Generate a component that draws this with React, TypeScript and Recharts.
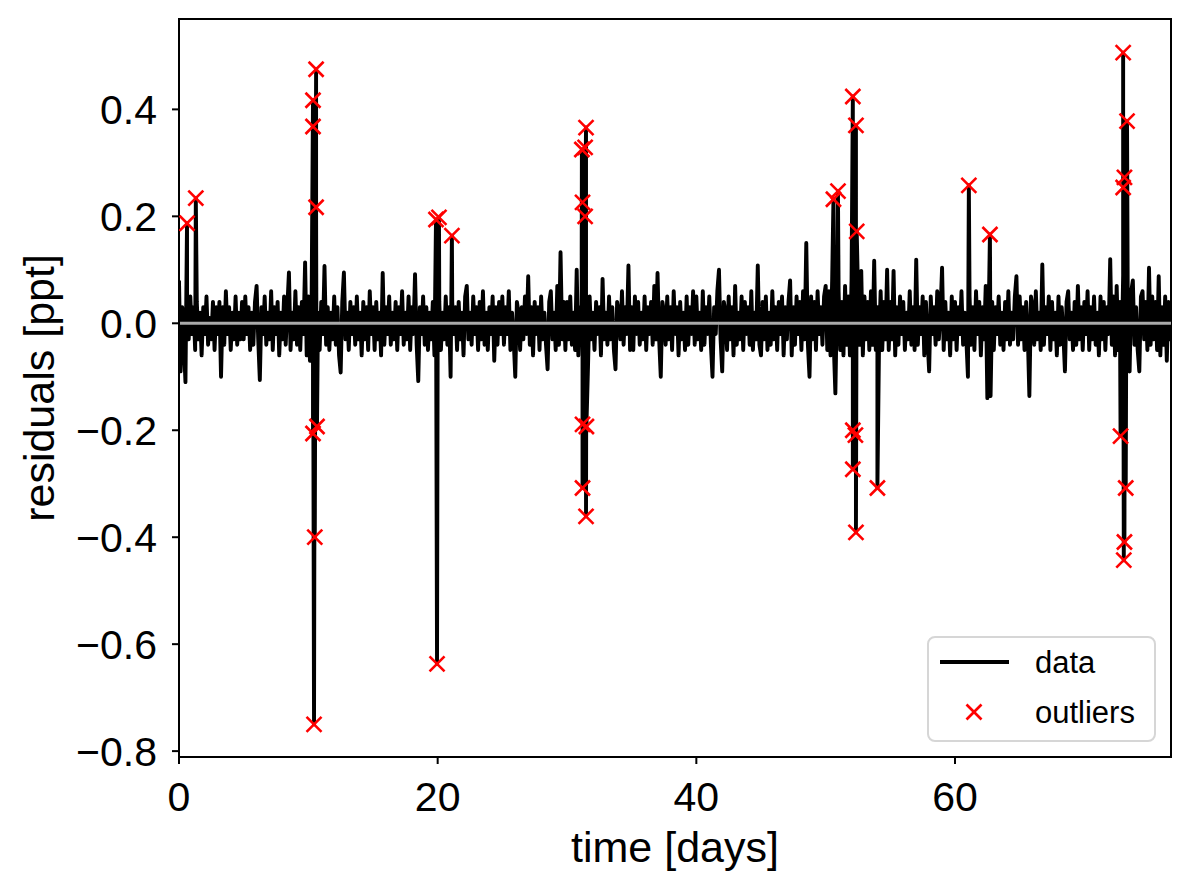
import React from 'react';
import {
  ComposedChart,
  Line,
  Scatter,
  XAxis,
  YAxis,
  ReferenceLine,
  ReferenceArea,
  Legend,
} from 'recharts';

const FONT = '"Liberation Sans", Arial, sans-serif';

// residuals (ppt), one sample every `cadence` days starting at t = 0
const cadence = 0.125;
const residuals = [
  // 0 - 5 d
  0.08, -0.09, 0.03, -0.04, -0.11, 0.02, -0.03, 0.05, -0.02, 0.03,
  -0.05, 0.04, -0.03, 0.02, -0.06, 0.03, -0.02, 0.05, -0.04, 0.01,
  -0.03, 0.04, -0.05, 0.03, -0.02, 0.04, -0.1, 0.03, -0.04, 0.06,
  -0.02, 0.03, -0.05, 0.02, -0.03, 0.05, -0.04, 0.02, -0.03, 0.04,
  // 5 - 10 d
  -0.03, 0.05, -0.02, 0.03, -0.05, 0.02, -0.04, 0.04, 0.07, -0.03,
  -0.106, 0.03, -0.02, 0.05, -0.04, 0.02, -0.03, 0.06, -0.05, 0.03,
  -0.02, 0.04, -0.06, 0.02, -0.03, 0.05, -0.04, 0.03, 0.095, -0.05,
  0.02, -0.03, 0.06, -0.04, 0.03, -0.05, 0.04, -0.02, 0.114, -0.06,
  // 10 - 15 d
  0.05, -0.07, 0.03, -0.04, 0.06, -0.03, 0.02, -0.05, 0.04, -0.02,
  0.107, -0.04, 0.03, -0.05, 0.02, -0.03, 0.05, -0.04, 0.03, -0.06,
  -0.092, 0.04, 0.095, -0.03, 0.02, -0.05, 0.04, -0.02, 0.03, -0.04,
  0.05, -0.03, 0.02, -0.06, 0.04, -0.03, 0.03, -0.05, 0.06, -0.02,
  // 15 - 20 d
  0.03, -0.05, 0.04, -0.03, 0.02, -0.06, 0.094, -0.04, 0.03, -0.02,
  0.05, -0.04, 0.02, -0.03, 0.04, -0.05, 0.03, -0.02, 0.06, -0.04,
  0.02, -0.03, 0.05, -0.05, 0.03, -0.02, 0.092, -0.04, -0.108, 0.03,
  -0.02, 0.05, -0.04, 0.03, -0.05, 0.02, -0.03, 0.04, -0.06, 0.05,
  // 20 - 25 d
  -0.03, 0.04, -0.05, 0.02, -0.03, 0.05, -0.04, 0.03, -0.1, 0.04,
  -0.02, 0.03, -0.05, 0.04, -0.03, 0.02, -0.06, 0.05, 0.07, -0.03,
  0.02, -0.04, 0.05, -0.02, 0.03, -0.05, 0.04, -0.03, 0.06, -0.04,
  0.02, -0.05, 0.03, -0.02, 0.05, -0.07, 0.03, -0.04, 0.04, -0.02,
  // 25 - 30 d
  0.05, -0.04, 0.03, -0.02, 0.06, -0.05, 0.02, -0.03, -0.1, 0.04,
  0.02, -0.05, 0.03, -0.03, 0.05, -0.02, 0.088, -0.04, 0.03, -0.06,
  0.04, -0.02, 0.03, -0.05, 0.05, -0.03, 0.02, -0.04, -0.086, 0.04,
  0.06, -0.03, 0.02, -0.05, 0.07, -0.04, 0.133, -0.03, 0.04, -0.05,
  // 30 - 35 d
  0.04, -0.03, 0.05, -0.04, 0.02, -0.05, 0.1, -0.06, 0.03, -0.04,
  0.07, -0.05, 0.04, -0.08, 0.05, -0.03, 0.02, -0.05, 0.04, -0.02,
  0.03, -0.06, 0.083, -0.03, 0.02, -0.04, 0.05, -0.03, 0.03, -0.05,
  -0.086, 0.04, 0.02, -0.03, 0.06, -0.04, 0.03, -0.02, 0.108, -0.05,
  // 35 - 40 d
  0.03, -0.05, 0.05, -0.02, 0.04, -0.04, 0.02, -0.03, 0.05, -0.05,
  0.03, -0.02, 0.04, -0.04, 0.07, -0.03, 0.094, -0.03, -0.1, 0.04,
  0.02, -0.04, 0.05, -0.03, 0.03, -0.05, 0.06, -0.02, 0.03, -0.06,
  0.04, -0.03, 0.02, -0.05, 0.05, -0.04, 0.03, -0.02, 0.06, -0.04,
  // 40 - 45 d
  0.05, -0.03, 0.02, -0.05, 0.06, -0.04, 0.03, -0.02, 0.05, -0.04,
  -0.1, 0.03, -0.02, 0.06, 0.1, -0.03, -0.09, 0.04, 0.02, -0.05,
  0.05, -0.03, 0.03, -0.06, 0.07, -0.04, 0.02, -0.03, 0.05, -0.05,
  0.04, -0.02, 0.03, -0.04, 0.06, -0.05, 0.02, -0.03, 0.108, -0.04,
  // 45 - 50 d
  -0.06, 0.04, -0.03, 0.05, -0.05, 0.02, -0.04, 0.06, -0.03, 0.03,
  -0.05, 0.04, -0.02, 0.05, -0.06, 0.03, -0.03, 0.04, 0.08, -0.06,
  0.03, -0.04, 0.05, -0.02, 0.04, -0.05, 0.06, -0.03, 0.15, -0.04,
  -0.1, 0.05, -0.03, 0.04, -0.05, 0.06, -0.02, 0.03, -0.04, 0.05,
  // 50 - 55 d
  0.07, -0.05, 0.06, -0.06, 0.08, -0.04, -0.131, 0.05, 0.06, -0.05,
  0.04, -0.06, 0.07, -0.04, 0.05, -0.06, 0.08, -0.05, 0.04, -0.07,
  0.06, -0.04, 0.098, -0.06, 0.05, -0.03, 0.04, -0.05, 0.06, -0.04,
  0.117, -0.05, 0.03, -0.04, 0.06, -0.05, 0.04, -0.03, 0.1, -0.05,
  // 55 - 60 d
  0.04, -0.03, 0.098, -0.06, 0.03, -0.04, 0.05, -0.02, 0.04, -0.05,
  0.02, -0.03, 0.06, -0.04, 0.03, -0.05, 0.119, -0.04, 0.03, -0.02,
  0.05, -0.06, 0.04, -0.03, -0.09, 0.05, -0.02, 0.03, -0.04, 0.06,
  -0.03, 0.02, 0.104, -0.05, 0.04, -0.03, 0.02, -0.06, 0.05, -0.03,
  // 60 - 65 d
  0.04, -0.05, 0.03, -0.02, 0.06, -0.04, 0.02, -0.03, -0.1, 0.05,
  -0.04, 0.03, -0.05, 0.06, -0.02, 0.04, -0.06, 0.03, -0.03, 0.07,
  -0.14, 0.05, -0.136, 0.04, -0.05, 0.03, -0.02, 0.05, -0.04, 0.02,
  -0.05, 0.04, -0.03, 0.06, -0.04, 0.02, -0.03, 0.05, 0.088, -0.04,
  // 65 - 70 d
  0.05, -0.03, 0.03, -0.05, 0.04, -0.02, -0.136, 0.05, 0.03, -0.04,
  0.06, -0.03, 0.02, -0.05, 0.11, -0.04, 0.03, -0.02, 0.05, -0.05,
  0.04, -0.03, 0.02, -0.06, 0.05, -0.04, 0.03, -0.02, -0.09, 0.04,
  0.06, -0.03, 0.02, -0.05, 0.04, -0.04, 0.07, -0.03, 0.03, -0.05,
  // 70 - 75 d
  0.04, -0.02, 0.06, -0.05, 0.03, -0.03, 0.05, -0.04, 0.02, -0.06,
  0.05, -0.03, 0.04, -0.05, 0.03, -0.02, 0.12, -0.04, 0.05, -0.06,
  0.07, -0.05, 0.04, -0.08, 0.09, -0.06, 0.05, -0.07, -0.09, 0.06,
  0.08, -0.04, 0.03, -0.05, -0.09, 0.05, 0.06, -0.03, 0.04, -0.05,
  // 75 - 76.75 d
  0.104, -0.04, 0.05, -0.03, 0.04, -0.05, 0.088, -0.06, 0.03, -0.04,
  0.05, -0.07, 0.04, -0.03, 0.04,
];

// flagged outliers
const outlierTimes = [
  0.62, 1.3,
  10.36, 10.36, 10.36, 10.44, 10.5, 10.6, 10.6, 10.67,
  19.87, 19.95, 20.1, 21.1,
  31.15, 31.2, 31.2, 31.2, 31.4, 31.4, 31.47, 31.47, 31.5,
  50.6, 50.95,
  52.1, 52.1, 52.1, 52.3, 52.34, 52.34, 52.4,
  54.0, 61.07, 62.7,
  72.8, 73.0, 73.0, 73.05, 73.1, 73.1, 73.2, 73.3,
];
const outlierValues = [
  0.187, 0.234,
  0.417, 0.368, -0.206, -0.75, -0.4, 0.475, 0.217, -0.193,
  0.194, -0.637, 0.198, 0.164,
  0.325, 0.226, -0.189, -0.308, 0.329, 0.2, 0.366, -0.361, -0.193,
  0.232, 0.247,
  0.424, -0.2, -0.273, -0.209, 0.37, -0.391, 0.172,
  -0.308, 0.258, 0.166,
  -0.211, 0.506, 0.254, -0.443, 0.273, -0.409, -0.308, 0.378,
];

const xTicks = [0, 20, 40, 60];
const yTicks = [-0.8, -0.6, -0.4, -0.2, 0, 0.2, 0.4];
const xDomain = [0, 76.7];
const yDomain = [-0.811, 0.569];

const outliers = outlierTimes.map((t, i) => ({ t, v: outlierValues[i] }));
const lightCurve = residuals
  .map((v, i) => ({ t: i * cadence, v }))
  .concat(outliers)
  .sort((a, b) => a.t - b.t);

const fmtY = (v: number) => (v < 0 ? '\u2212' : '') + Math.abs(v).toFixed(1);

const Cross = (props: any) => {
  const { cx, cy } = props;
  if (cx == null || cy == null) return null;
  const r = 7.5;
  return (
    <g stroke="#ff0000" strokeWidth={2.6}>
      <line x1={cx - r} y1={cy - r} x2={cx + r} y2={cy + r} />
      <line x1={cx - r} y1={cy + r} x2={cx + r} y2={cy - r} />
    </g>
  );
};

const LegendBox = () => (
  <div
    style={{
      width: 229,
      height: 106,
      boxSizing: 'border-box',
      border: '2px solid #d6d6d6',
      borderRadius: 8,
      background: 'rgba(255,255,255,0.8)',
    }}
  >
    <svg width={225} height={102} style={{ display: 'block' }}>
      <line x1={11} y1={24} x2={80} y2={24} stroke="#000" strokeWidth={3.9} />
      <text x={106} y={24} dy="0.35em" fontSize={31} fontFamily={FONT} fill="#000">
        data
      </text>
      <g stroke="#ff0000" strokeWidth={2.6}>
        <line x1={37.5} y1={66.5} x2={52.5} y2={81.5} />
        <line x1={37.5} y1={81.5} x2={52.5} y2={66.5} />
      </g>
      <text x={106} y={74} dy="0.35em" fontSize={31} fontFamily={FONT} fill="#000">
        outliers
      </text>
    </svg>
  </div>
);

export default function App() {
  return (
    <div style={{ position: 'absolute', left: 0, top: 0, background: '#fff' }}>
      <ComposedChart
        width={1191}
        height={891}
        margin={{ top: 19, right: 20, bottom: 0, left: 0 }}
      >
        <XAxis
          dataKey="t"
          type="number"
          domain={xDomain}
          ticks={xTicks}
          allowDataOverflow
          height={134}
          tickSize={7}
          tickMargin={18}
          axisLine={{ stroke: '#000', strokeWidth: 2 }}
          tickLine={{ stroke: '#000', strokeWidth: 2 }}
          tick={{ fill: '#000', fontSize: 41, fontFamily: FONT }}
          label={{
            content: () => (
              <text x={675} y={862} textAnchor="middle" fontSize={43} fontFamily={FONT} fill="#000">
                time [days]
              </text>
            ),
          }}
        />
        <YAxis
          type="number"
          domain={yDomain}
          ticks={yTicks}
          allowDataOverflow
          width={179}
          tickSize={7}
          tickMargin={15}
          tickFormatter={fmtY}
          axisLine={{ stroke: '#000', strokeWidth: 2 }}
          tickLine={{ stroke: '#000', strokeWidth: 2 }}
          tick={{ fill: '#000', fontSize: 41, fontFamily: FONT }}
          label={{
            content: () => (
              <text
                x={54}
                y={388}
                transform="rotate(-90 54 388)"
                textAnchor="middle"
                fontSize={43}
                fontFamily={FONT}
                fill="#000"
              >
                residuals [ppt]
              </text>
            ),
          }}
        />
        <Line
          data={lightCurve}
          dataKey="v"
          name="data"
          stroke="#000"
          strokeWidth={3.9}
          strokeLinejoin="round"
          dot={false}
          activeDot={false}
          isAnimationActive={false}
        />
        <ReferenceLine y={0} stroke="#aaaaaa" strokeWidth={3} />
        <Scatter
          data={outliers}
          dataKey="v"
          name="outliers"
          shape={<Cross />}
          isAnimationActive={false}
        />
        <ReferenceArea
          x1={xDomain[0]}
          x2={xDomain[1]}
          y1={yDomain[0]}
          y2={yDomain[1]}
          fill="none"
          fillOpacity={0}
          stroke="#000"
          strokeWidth={2}
          ifOverflow="visible"
        />
        <Legend
          layout="horizontal"
          verticalAlign="middle"
          align="center"
          content={() => <LegendBox />}
          wrapperStyle={{ left: 927, top: 636, width: 229, height: 106 }}
        />
      </ComposedChart>
    </div>
  );
}
